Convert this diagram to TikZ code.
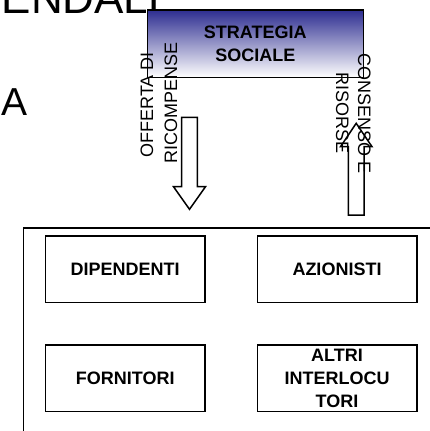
\documentclass[tikz,border=0pt]{standalone}
\usepackage{fontspec}
\setmainfont{Liberation Sans}
\definecolor{stratblue}{RGB}{46,46,145}
\begin{document}
\begin{tikzpicture}[x=1pt,y=1pt,
  frame/.style={line width=1.6pt},
  actor/.style={draw, line width=1.6pt, minimum width=159.4pt, minimum height=66.7pt,
    inner sep=0pt, align=center, font=\fontsize{18}{23}\selectfont\bfseries},
  strat/.style={draw, line width=1.6pt, minimum width=216pt, minimum height=67.3pt,
    inner sep=0pt, align=center, top color=stratblue, bottom color=white,
    font=\fontsize{18}{22.5}\selectfont\bfseries},
  flowlabel/.style={inner sep=0pt, anchor=base, font=\fontsize{18}{23}\selectfont},
  blockarrow/.style={draw, line width=1.5pt, line join=miter},
  headline/.style={inner sep=0pt, font=\fontsize{44}{48}\selectfont}]
\useasboundingbox (0,0) rectangle (430,-431);

% heading fragments
\node[headline, anchor=base east] (head) at (178,-13) {ENDALE};
\node[inner sep=0pt, font=\fontsize{39}{44}\selectfont, anchor=base west] (lefta) at (1.5,-115) {A};

% strategy box
\node[strat] (strategia) at (255.3,-43.7) {STRATEGIA\\SOCIALE};

% block arrows
\draw[blockarrow] (181.7,-117.3) -- (197.3,-117.3) -- (197.3,-186.7) -- (205.5,-186.7)
  -- (189.5,-209.3) -- (173.5,-186.7) -- (181.7,-186.7) -- cycle;
\draw[blockarrow] (348.3,-215) -- (364,-215) -- (364,-146.7) -- (372,-146.7)
  -- (356.2,-123.3) -- (340.5,-146.7) -- (348.3,-146.7) -- cycle;

% arrow labels, one node per line, baseline-anchored
\node[flowlabel, rotate=90] (offerta1) at (153,-105) {OFFERTA DI};
\node[flowlabel, rotate=90] (offerta2) at (177,-102.5) {RICOMPENSE};
\node[flowlabel, rotate=-90] (consenso1) at (358,-113.5) {CONSENSO E};
\node[flowlabel, rotate=-90] (consenso2) at (336,-113) {RISORSE};

% stakeholder frame
\draw[frame] (23.3,-440) |- (440,-227.7);

% stakeholders
\node[actor] (dipendenti) at (125.2,-269.3) {DIPENDENTI};
\node[actor] (azionisti) at (337,-269.3) {AZIONISTI};
\node[actor] (fornitori) at (125.2,-378.3) {FORNITORI};
\node[actor] (altri) at (337,-378.3) {ALTRI\\INTERLOCU\\TORI};
\end{tikzpicture}
\end{document}
